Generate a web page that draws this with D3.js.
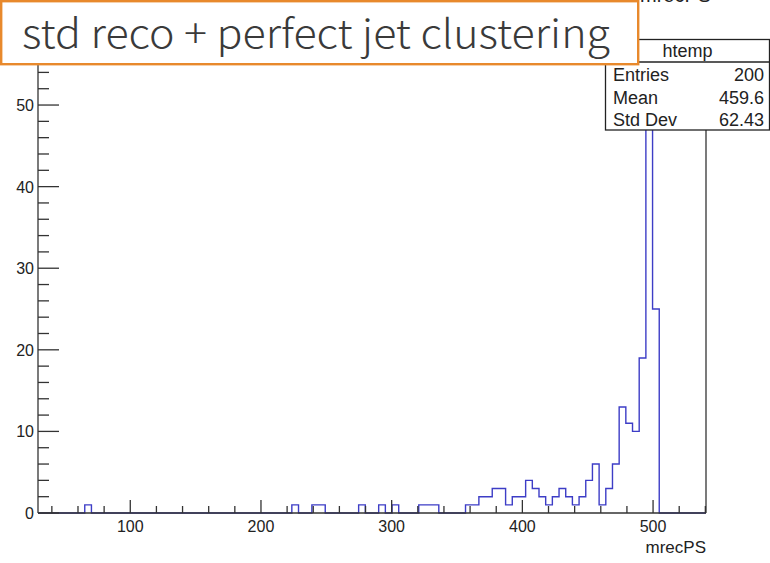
<!DOCTYPE html>
<html>
<head>
<meta charset="utf-8">
<script src="https://cdn.jsdelivr.net/npm/d3@7"></script>
<style>
  html, body { margin: 0; padding: 0; background: #fff; }
  svg { display: block; }
</style>
</head>
<body>
<script>
// Histogram of mrecPS: 100 equal bins between xMin and xMax.
const xMin = 29.4;
const xMax = 540.5;
const nBins = 100;
// Bin numbers (0-based) holding entries, and the entries in each.
const filledBins = [7, 38, 41, 42, 48, 51, 53, 57, 58, 59,
  64, 65, 66, 67, 68, 69, 70, 71, 72, 73, 74, 75, 76, 77, 78, 79, 80,
  81, 82, 83, 84, 85, 86, 87, 88, 89, 90, 91, 92];
const binCounts = [1, 1, 1, 1, 1, 1, 1, 1, 1, 1,
  1, 1, 2, 2, 3, 3, 1, 2, 2, 4, 3, 2, 1, 2, 3, 2, 1,
  2, 4, 6, 1, 3, 6, 13, 11, 10, 19, 55, 25];
const yMax = 57.75;
const xMajorTicks = [100, 200, 300, 400, 500];
const xMinorTicks = d3.range(40, 541, 20);
const yMajorTicks = [0, 10, 20, 30, 40, 50];
const yMinorTicks = d3.range(0, 57, 2);
const statsName = "htemp";
const statsLabels = ["Entries", "Mean", "Std Dev"];
const statsValues = ["200", "459.6", "62.43"];
const titleText = "std reco + perfect jet clustering";
const histTitle = "mrecPS";
const xTitle = "mrecPS";

const W = 770, H = 563;
const frame = { left: 38, right: 706, top: 41.8, bottom: 513 };

const svg = d3.select("body").append("svg")
  .attr("width", W).attr("height", H);

const x = d3.scaleLinear().domain([xMin, xMax]).range([frame.left, frame.right]);
const y = d3.scaleLinear().domain([0, yMax]).range([frame.bottom, frame.top]);

// full per-bin contents
const counts = new Array(nBins).fill(0);
filledBins.forEach((b, i) => { counts[b] = binCounts[i]; });
const binW = (xMax - xMin) / nBins;

// histogram outline as a step path
const pts = [[xMin, 0]];
counts.forEach((c, i) => {
  const lo = xMin + i * binW, hi = lo + binW;
  pts.push([lo, c]);
  pts.push([hi, c]);
});
pts.push([xMax, 0]);

const line = d3.line().x(d => x(d[0])).y(d => y(d[1]));

// canvas title, running off the top edge
svg.append("text")
  .attr("x", 640).attr("y", 2)
  .attr("font-family", "Liberation Sans, Arial, sans-serif")
  .attr("font-size", 20)
  .attr("fill", "#222")
  .text(histTitle);

svg.append("path")
  .attr("d", line(pts))
  .attr("fill", "none")
  .attr("stroke", "#3d3dc6")
  .attr("stroke-width", 1.4);

const axisColor = "#333";
const g = svg.append("g").attr("stroke", axisColor).attr("stroke-width", 1.3);

// frame
g.append("line").attr("x1", frame.left).attr("x2", frame.left)
  .attr("y1", frame.top).attr("y2", frame.bottom);
g.append("line").attr("x1", frame.right).attr("x2", frame.right)
  .attr("y1", frame.top).attr("y2", frame.bottom);
g.append("line").attr("x1", frame.left).attr("x2", frame.right)
  .attr("y1", frame.top).attr("y2", frame.top);
g.append("line").attr("x1", frame.left).attr("x2", frame.right)
  .attr("y1", frame.bottom).attr("y2", frame.bottom);

// x ticks
g.selectAll(".xminor").data(xMinorTicks).join("line")
  .attr("x1", d => x(d)).attr("x2", d => x(d))
  .attr("y1", frame.bottom).attr("y2", d => frame.bottom - (d % 100 === 0 ? 13 : 7));

// y ticks
g.selectAll(".yminor").data(yMinorTicks).join("line")
  .attr("y1", d => y(d)).attr("y2", d => y(d))
  .attr("x1", frame.left).attr("x2", d => frame.left + (d % 10 === 0 ? 21 : 11));

const labelFont = "Liberation Sans, Arial, sans-serif";
svg.selectAll(".xl").data(xMajorTicks).join("text")
  .attr("x", d => x(d)).attr("y", 532)
  .attr("text-anchor", "middle")
  .attr("font-family", labelFont).attr("font-size", 16)
  .attr("fill", "#222")
  .text(d => d);

svg.selectAll(".yl").data(yMajorTicks).join("text")
  .attr("x", 34).attr("y", d => y(d) + 6)
  .attr("text-anchor", "end")
  .attr("font-family", labelFont).attr("font-size", 16)
  .attr("fill", "#222")
  .text(d => d);

svg.append("text")
  .attr("x", frame.right).attr("y", 553)
  .attr("text-anchor", "end")
  .attr("font-family", labelFont).attr("font-size", 17)
  .attr("fill", "#222")
  .text(xTitle);

// statistics box
const sb = { left: 605.5, right: 769.5, top: 39.5, head: 62, bottom: 130 };
const stats = svg.append("g");
stats.append("rect")
  .attr("x", sb.left).attr("y", sb.top)
  .attr("width", sb.right - sb.left).attr("height", sb.bottom - sb.top)
  .attr("fill", "#fff").attr("stroke", "#222").attr("stroke-width", 1.3);
stats.append("line")
  .attr("x1", sb.left).attr("x2", sb.right).attr("y1", sb.head).attr("y2", sb.head)
  .attr("stroke", "#222").attr("stroke-width", 1.3);
stats.append("text")
  .attr("x", (sb.left + sb.right) / 2).attr("y", 56.5)
  .attr("text-anchor", "middle")
  .attr("font-family", labelFont).attr("font-size", 18)
  .attr("fill", "#222")
  .text(statsName);
const rowY = [80.5, 104, 126];
stats.selectAll(".sl").data(statsLabels).join("text")
  .attr("x", 613).attr("y", (d, i) => rowY[i])
  .attr("font-family", labelFont).attr("font-size", 18)
  .attr("fill", "#222")
  .text(d => d);
stats.selectAll(".sv").data(statsValues).join("text")
  .attr("x", 764).attr("y", (d, i) => rowY[i])
  .attr("text-anchor", "end")
  .attr("font-family", labelFont).attr("font-size", 18)
  .attr("fill", "#222")
  .text(d => d);

// overlay title box
const tb = svg.append("g");
tb.append("rect")
  .attr("x", 1.2).attr("y", 1.2).attr("width", 637).attr("height", 63)
  .attr("fill", "#fff").attr("stroke", "#e8892c").attr("stroke-width", 2.4);
const tt = tb.append("text")
  .attr("x", 0).attr("y", 0)
  .attr("font-family", "'Noto Sans CJK JP', 'Noto Sans', sans-serif")
  .attr("font-weight", 300)
  .attr("font-size", 40)
  .attr("fill", "#3a3a3a")
  .text(titleText);
// squeeze the title horizontally so it spans the box interior
const len = tt.node().getComputedTextLength();
tt.attr("transform", `translate(22,48.3) scale(${588 / len},1)`);
</script>
</body>
</html>
